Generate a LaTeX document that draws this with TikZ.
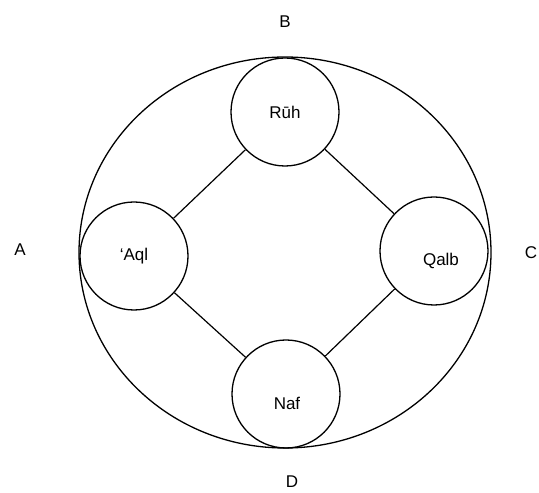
\documentclass[tikz,border=0pt]{standalone}
\usepackage{fontspec}
\setmainfont{Liberation Sans}
\begin{document}
\begin{tikzpicture}[x=1pt,y=1pt,
  circ/.style={draw,circle,line width=1.3pt,minimum size=108pt,inner sep=0pt,font=\fontsize{17}{20}\selectfont},
  lbl/.style={font=\fontsize{17}{20}\selectfont,inner sep=0pt},
  conn/.style={line width=1.2pt}]
\useasboundingbox (0,0) rectangle (539,493);
\draw[line width=1.3pt] (285,240.5) ellipse [x radius=206, y radius=195.5];
\node[circ] (ruh) at (285,381) {Rūh};
\node[circ] (aql) at (134,237) {‘Aql};
\node[circ,label={[lbl,xshift=7pt,yshift=-10pt]center:Qalb}] (qalb) at (434,242) {};
\node[circ,label={[lbl,xshift=1pt,yshift=-9pt]center:Naf}] (naf) at (286,99) {};
\draw[conn] (ruh) -- (aql);
\draw[conn] (ruh) -- (qalb);
\draw[conn] (aql) -- (naf);
\draw[conn] (qalb) -- (naf);
\node[lbl] (B) at (285,471) {B};
\node[lbl] (A) at (20,243) {A};
\node[lbl] (C) at (531,240) {C};
\node[lbl] (D) at (292,11) {D};
\end{tikzpicture}
\end{document}
